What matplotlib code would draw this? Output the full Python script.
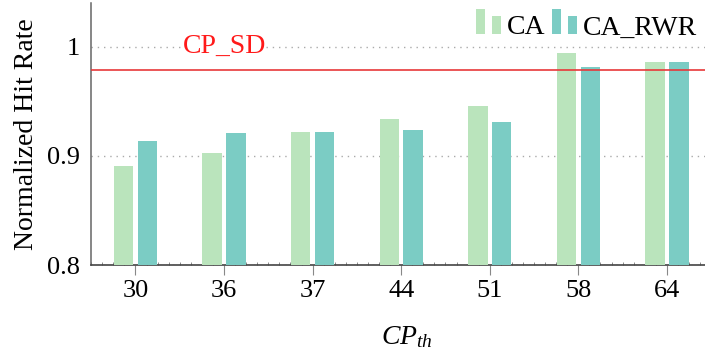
import numpy as np
import matplotlib.pyplot as plt
from matplotlib.legend_handler import HandlerBase
from matplotlib.patches import Rectangle
from matplotlib.ticker import MultipleLocator

cp_th = ['30', '36', '37', '44', '51', '58', '64']
ca = [0.891, 0.903, 0.922, 0.934, 0.946, 0.994, 0.986]
ca_rwr = [0.914, 0.921, 0.922, 0.924, 0.931, 0.981, 0.986]
cp_sd = 0.979

plt.rcParams['font.family'] = ['Liberation Serif', 'DejaVu Serif']
plt.rcParams['mathtext.fontset'] = 'custom'
plt.rcParams['mathtext.it'] = 'Liberation Serif:italic'
plt.rcParams['mathtext.rm'] = 'Liberation Serif'


class TwoBarHandler(HandlerBase):
    # pgfplots-style ybar legend: two small bars of different height
    def create_artists(self, legend, orig_handle, xdescent, ydescent,
                       width, height, fontsize, trans):
        color = orig_handle.patches[0].get_facecolor()
        w = width * 0.36
        r1 = Rectangle((-xdescent, -ydescent), w, height * 1.3,
                       facecolor=color, edgecolor='none', transform=trans)
        r2 = Rectangle((-xdescent + width * 0.64, -ydescent), w, height * 0.97,
                       facecolor=color, edgecolor='none', transform=trans)
        return [r1, r2]


fig = plt.figure(figsize=(7.05, 3.53), dpi=100)
ax = fig.add_axes([0.129, 0.249, 0.871, 0.7425])

x = np.arange(len(cp_th))
w = 0.22
b1 = ax.bar(x - 0.135, np.array(ca) - 0.8, w, bottom=0.8, color='#bae4bc', label='CA', zorder=3)
b2 = ax.bar(x + 0.135, np.array(ca_rwr) - 0.8, w, bottom=0.8, color='#7bccc4', label='CA_RWR', zorder=3)

ax.axhline(cp_sd, color='#e8383a', lw=1.2, zorder=4)
ax.text(1.0, 1.0, 'CP_SD', color='#ff1a1a', fontsize=20, ha='center', va='center', zorder=5,
        bbox=dict(facecolor='white', edgecolor='none', pad=0))

ax.set_xlim(-0.503, 6.43)
ax.set_ylim(0.8, 1.04)
ax.set_yticks([0.8, 0.9, 1.0])
ax.set_yticklabels(['0.8', '0.9', '1'])
ax.set_xticks(x)
ax.set_xticklabels(cp_th)
ax.xaxis.set_minor_locator(MultipleLocator(0.125))
ax.tick_params(axis='x', which='minor', length=2, color='#777777', direction='in')
ax.tick_params(axis='x', which='major', length=7, color='#888888', labelsize=19, pad=4)
ax.tick_params(axis='y', which='major', length=0, labelsize=19, pad=8)

ax.grid(axis='y', linestyle=(0, (1, 3.5)), color='#aaaaaa', lw=1, zorder=1)
for s in ['top', 'right']:
    ax.spines[s].set_visible(False)
ax.spines['left'].set_color('#666666')
ax.spines['bottom'].set_color('#444444')
ax.spines['left'].set_linewidth(1.1)
ax.spines['bottom'].set_linewidth(1.2)

ax.set_ylabel('Normalized Hit Rate', fontsize=20, labelpad=6)
ax.set_xlabel('$CP_{th}$', fontsize=20, labelpad=10)
ax.xaxis.set_label_coords(0.515, -0.225)

ax.legend(handles=[b1, b2], labels=['CA', 'CA_RWR'], loc='upper right',
          bbox_to_anchor=(697 / 705, 1 - 15 / 353), bbox_transform=fig.transFigure,
          frameon=False, fontsize=20, borderaxespad=0, borderpad=0,
          handler_map={b1: TwoBarHandler(), b2: TwoBarHandler()},
          ncol=2, handlelength=0.9, handletextpad=0.22, columnspacing=0.22)

fig.savefig('out.png', dpi=100)
